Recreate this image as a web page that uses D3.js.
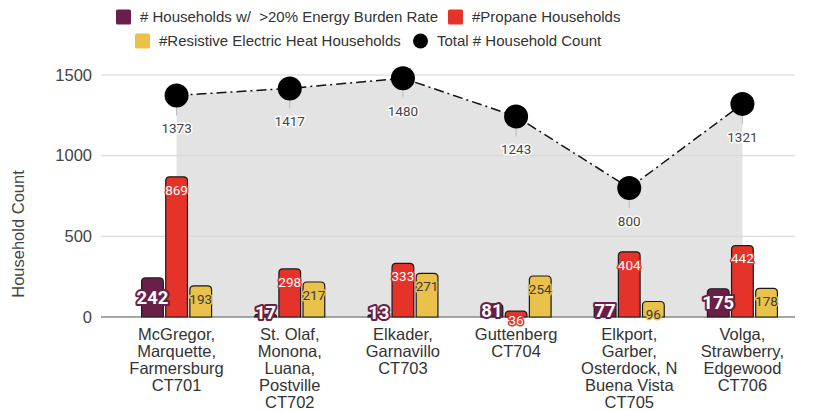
<!DOCTYPE html>
<html lang="en">
<head>
    <meta charset="UTF-8">
    <title>Household Count by Census Tract</title>
    <script src="https://d3js.org/d3.v7.min.js"></script>
    <style>
        body { margin: 0; background: #fff; }
        text { font-family: "Liberation Sans", Arial, sans-serif; }
        .tick-label { font-size: 16.5px; fill: #444; }
        .cat-label { font-size: 16.5px; fill: #333; }
        .legend-text { font-size: 15px; fill: #333; white-space: pre; }
        .val { font-family: Roboto, "Liberation Sans", sans-serif; paint-order: stroke; stroke-linejoin: round; }
    </style>
</head>
<body>
<div id="chart"></div>
<script>
    // chart data
    const categories = [
        ["McGregor,", "Marquette,", "Farmersburg", "CT701"],
        ["St. Olaf,", "Monona,", "Luana,", "Postville", "CT702"],
        ["Elkader,", "Garnavillo", "CT703"],
        ["Guttenberg", "CT704"],
        ["Elkport,", "Garber,", "Osterdock, N", "Buena Vista", "CT705"],
        ["Volga,", "Strawberry,", "Edgewood", "CT706"]
    ];
    const burden = [242, 17, 13, 81, 77, 175];
    const propane = [869, 298, 333, 36, 404, 442];
    const resistive = [193, 217, 271, 254, 96, 178];
    const totals = [1373, 1417, 1480, 1243, 800, 1321];
    const yTicks = [0, 500, 1000, 1500];

    const seriesNames = ["# Households w/  >20% Energy Burden Rate", "#Propane Households", "#Resistive Electric Heat Households"];
    const colors = ["#6a1f48", "#e63329", "#e9c14b"];

    const W = 813, H = 411;
    const svg = d3.select("#chart").append("svg")
        .attr("width", W)
        .attr("height", H);

    const x = d3.scaleBand()
        .domain(d3.range(categories.length))
        .range([120, 799]);

    const xs = d3.scaleBand()
        .domain([0, 1, 2])
        .range([-35, 35])
        .paddingInner(0.1);

    const y = d3.scaleLinear()
        .domain([0, 1500])
        .range([317, 75]);

    const cx = i => x(i) + x.bandwidth() / 2;

    // grey area under the total line
    svg.append("path")
        .datum(totals)
        .attr("fill", "#e3e3e3")
        .attr("d", d3.area()
            .x((d, i) => cx(i))
            .y0(y(0))
            .y1(d => y(d)));

    // gridlines + y tick labels
    const grid = svg.append("g");
    grid.selectAll("line")
        .data(yTicks)
        .enter().append("line")
        .attr("x1", 101).attr("x2", 795)
        .attr("y1", d => y(d)).attr("y2", d => y(d))
        .attr("stroke", d => d === 0 ? "#8a8a8a" : "#d6d6d6")
        .attr("stroke-width", d => d === 0 ? 1.3 : 1);
    grid.selectAll("text")
        .data(yTicks)
        .enter().append("text")
        .attr("class", "tick-label")
        .attr("x", 92)
        .attr("y", d => y(d))
        .attr("dy", "0.35em")
        .attr("text-anchor", "end")
        .text(d => d);

    // y axis title
    svg.append("text")
        .attr("class", "tick-label")
        .attr("transform", "translate(24,234) rotate(-90)")
        .attr("text-anchor", "middle")
        .text("Household Count");

    // bars with rounded tops
    function topRounded(x0, y0, w, h, r) {
        r = Math.min(r, h, w / 2);
        return `M${x0},${y0 + h}V${y0 + r}Q${x0},${y0} ${x0 + r},${y0}H${x0 + w - r}Q${x0 + w},${y0} ${x0 + w},${y0 + r}V${y0 + h}Z`;
    }

    const seriesData = [burden, propane, resistive];
    const bars = [];
    seriesData.forEach((vals, s) => {
        vals.forEach((v, i) => bars.push({ s: s, i: i, v: v }));
    });

    svg.append("g")
        .selectAll("path")
        .data(bars)
        .enter().append("path")
        .attr("d", d => {
            const bx = cx(d.i) + xs(d.s);
            return topRounded(bx, y(d.v), xs.bandwidth(), y(0) - y(d.v), 4);
        })
        .attr("fill", d => colors[d.s])
        .attr("stroke", "#1a1a1a")
        .attr("stroke-width", 1.2);

    // bar value labels (burden labels sit mid-bar, others near the top)
    svg.append("g")
        .selectAll("text")
        .data(bars)
        .enter().append("text")
        .attr("class", "val")
        .attr("x", d => cx(d.i) + xs(d.s) + xs.bandwidth() / 2)
        .attr("y", d => d.s === 0 ? Math.min((y(d.v) + y(0)) / 2, 313) : Math.min(y(d.v) + 13, 320))
        .attr("dy", "0.35em")
        .attr("text-anchor", "middle")
        .style("font-size", d => d.s === 0 ? "18.5px" : "13.5px")
        .style("font-weight", d => d.s === 0 ? "bold" : "normal")
        .attr("fill", d => d.s === 2 ? "#3a3a3a" : "#fff")
        .attr("stroke", d => colors[d.s])
        .attr("stroke-width", d => d.s === 0 ? 4 : 3)
        .text(d => d.v);

    // total line
    svg.append("path")
        .datum(totals)
        .attr("fill", "none")
        .attr("stroke", "#111")
        .attr("stroke-width", 1.5)
        .attr("stroke-dasharray", "10,4,2,4")
        .attr("d", d3.line().x((d, i) => cx(i)).y(d => y(d)));

    // thin leader lines to total labels
    svg.append("g")
        .selectAll("line")
        .data(totals)
        .enter().append("line")
        .attr("x1", (d, i) => cx(i)).attr("x2", (d, i) => cx(i))
        .attr("y1", d => y(d)).attr("y2", d => y(d) + 20)
        .attr("stroke", "#bbb")
        .attr("stroke-width", 1);

    svg.append("g")
        .selectAll("circle")
        .data(totals)
        .enter().append("circle")
        .attr("cx", (d, i) => cx(i))
        .attr("cy", d => y(d))
        .attr("r", 12)
        .attr("fill", "#000");

    svg.append("g")
        .selectAll("text")
        .data(totals)
        .enter().append("text")
        .attr("class", "val")
        .attr("x", (d, i) => cx(i))
        .attr("y", d => y(d) + 33)
        .attr("dy", "0.35em")
        .attr("text-anchor", "middle")
        .style("font-size", "13.5px")
        .attr("fill", "#444")
        .attr("stroke", "#fff")
        .attr("stroke-width", 3)
        .text(d => d);

    // category labels
    svg.append("g")
        .selectAll("text")
        .data(categories)
        .enter().append("text")
        .attr("class", "cat-label")
        .attr("text-anchor", "middle")
        .attr("x", (d, i) => cx(i))
        .attr("y", 340)
        .each(function(lines, i) {
            d3.select(this).selectAll("tspan")
                .data(lines)
                .enter().append("tspan")
                .attr("x", cx(i))
                .attr("dy", (l, j) => j === 0 ? 0 : 17)
                .text(l => l);
        });

    // legend
    const legend = svg.append("g");
    const items = [
        { label: seriesNames[0], color: colors[0], x: 116, y: 17, shape: "rect" },
        { label: seriesNames[1], color: colors[1], x: 448, y: 17, shape: "rect" },
        { label: seriesNames[2], color: colors[2], x: 135, y: 41, shape: "rect" },
        { label: "Total # Household Count", color: "#000", x: 413, y: 41, shape: "circle" }
    ];
    items.forEach(it => {
        if (it.shape === "rect") {
            legend.append("rect")
                .attr("x", it.x).attr("y", it.y - 7.5)
                .attr("width", 15).attr("height", 15)
                .attr("rx", 1.5)
                .attr("fill", it.color);
        } else {
            legend.append("circle")
                .attr("cx", it.x + 7.5).attr("cy", it.y)
                .attr("r", 7.5)
                .attr("fill", it.color);
        }
        legend.append("text")
            .attr("class", "legend-text")
            .attr("x", it.x + 24)
            .attr("y", it.y)
            .attr("dy", "0.35em")
            .text(it.label);
    });
</script>
</body>
</html>
